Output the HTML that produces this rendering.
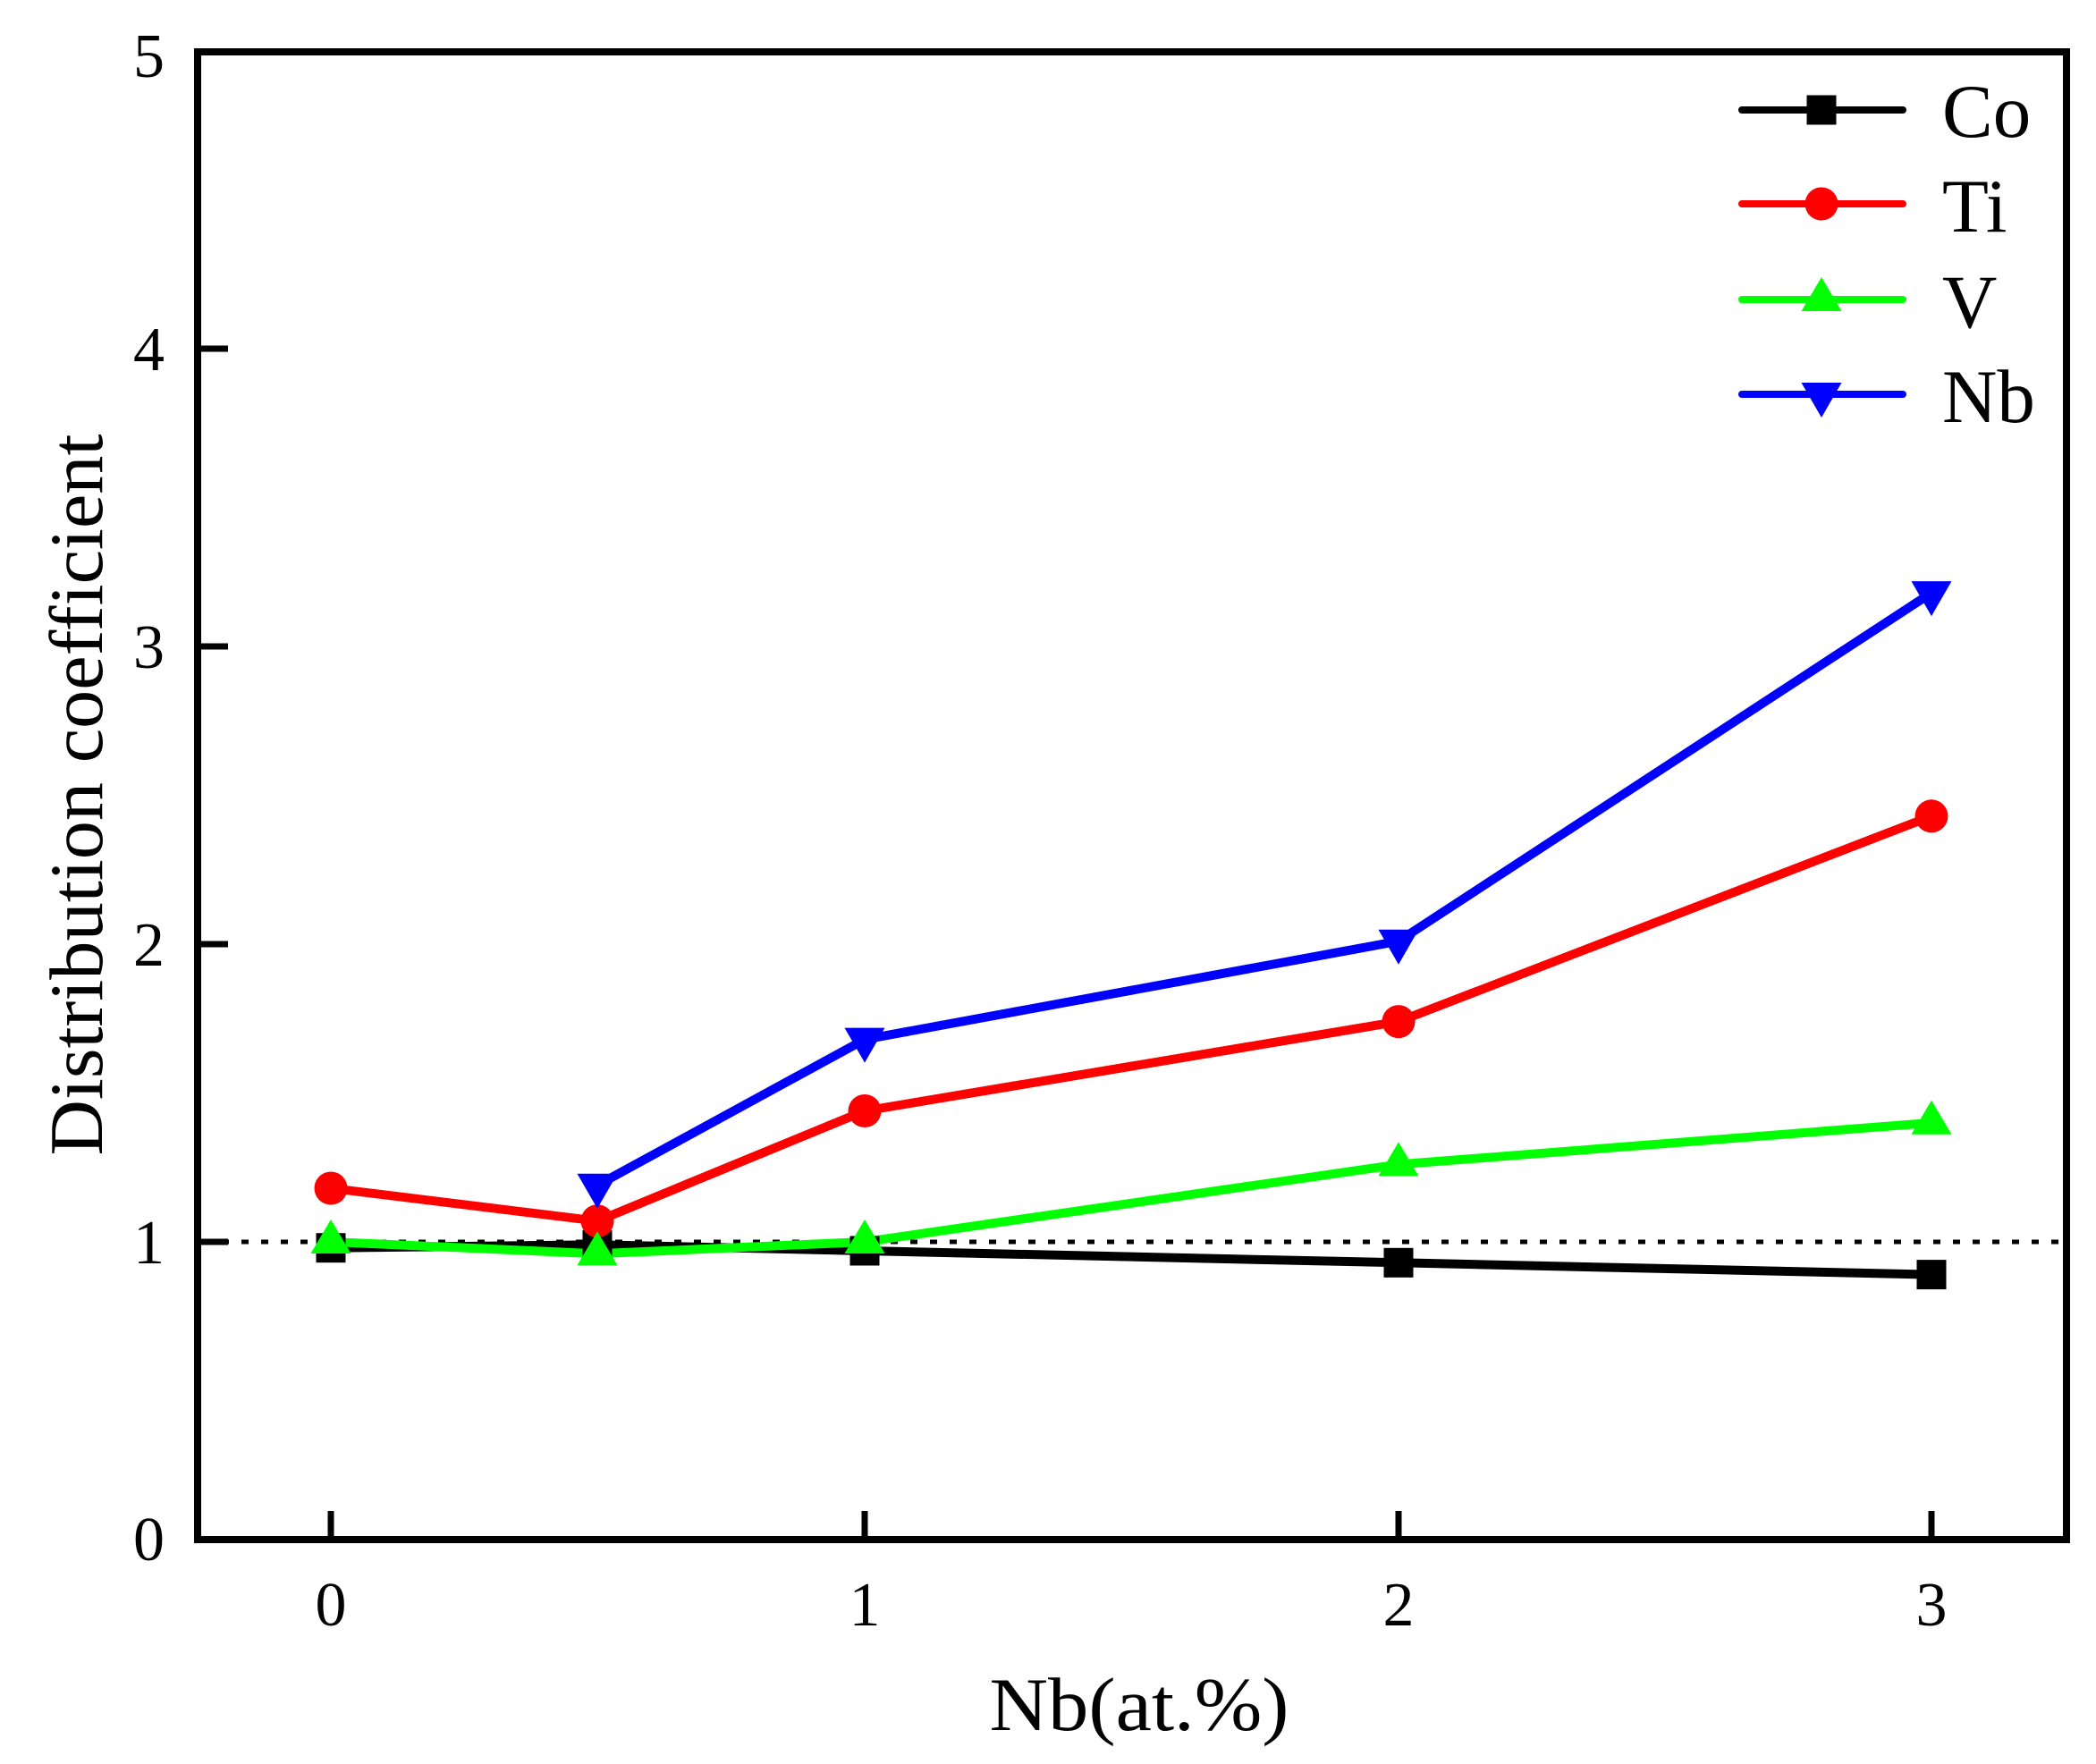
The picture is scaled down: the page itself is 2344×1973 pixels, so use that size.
<!DOCTYPE html>
<html><head><meta charset="utf-8"><style>html,body{margin:0;padding:0;background:#fff}svg{display:block}</style></head>
<body>
<svg width="2344" height="1973" viewBox="0 0 2344 1973" xmlns="http://www.w3.org/2000/svg" font-family="'Liberation Serif', serif">
<defs>
<g id="sq"><rect x="-16.5" y="-16.5" width="33" height="33" fill="#000"/></g>
<g id="ci"><circle r="18.5" fill="#f00"/></g>
<g id="tu"><polygon points="0,-25 -22.5,13 22.5,13" fill="#0f0"/></g>
<g id="td"><polygon points="0,26 -22.5,-13 22.5,-13" fill="#00f"/></g>
</defs>
<line x1="226" y1="1389" x2="2308" y2="1389" stroke="#000" stroke-width="5" stroke-dasharray="8 14"/>
<g stroke="#000" stroke-width="7">
<line x1="221" y1="1389" x2="255" y2="1389"/>
<line x1="221" y1="1056" x2="255" y2="1056"/>
<line x1="221" y1="723" x2="255" y2="723"/>
<line x1="221" y1="390" x2="255" y2="390"/>
<line x1="370" y1="1722" x2="370" y2="1690"/>
<line x1="967" y1="1722" x2="967" y2="1690"/>
<line x1="1564" y1="1722" x2="1564" y2="1690"/>
<line x1="2160" y1="1722" x2="2160" y2="1690"/>
</g>
<rect x="221" y="58" width="2090" height="1664" fill="none" stroke="#000" stroke-width="8"/>
<g fill="none" stroke-width="10" stroke-linejoin="round">
<polyline stroke="#000" points="370,1395.7 668,1392.3 967,1399 1564,1412.3 2160,1425.6"/>
<polyline stroke="#f00" points="370,1329 668,1365.7 967,1242.5 1564,1142.6 2160,912.8"/>
<polyline stroke="#0f0" points="370,1389 668,1402.3 967,1389 1564,1302.4 2160,1255.8"/>
<polyline stroke="#00f" points="668,1325.7 967,1162.6 1564,1052.7 2160,663.1"/>
</g>
<use href="#sq" x="370" y="1395.7"/><use href="#sq" x="668" y="1392.3"/><use href="#sq" x="967" y="1399"/><use href="#sq" x="1564" y="1412.3"/><use href="#sq" x="2160" y="1425.6"/>
<use href="#ci" x="370" y="1329"/><use href="#ci" x="668" y="1365.7"/><use href="#ci" x="967" y="1242.5"/><use href="#ci" x="1564" y="1142.6"/><use href="#ci" x="2160" y="912.8"/>
<use href="#tu" x="370" y="1389"/><use href="#tu" x="668" y="1402.3"/><use href="#tu" x="967" y="1389"/><use href="#tu" x="1564" y="1302.4"/><use href="#tu" x="2160" y="1255.8"/>
<use href="#td" x="668" y="1325.7"/><use href="#td" x="967" y="1162.6"/><use href="#td" x="1564" y="1052.7"/><use href="#td" x="2160" y="663.1"/>
<g font-size="70" text-anchor="end" fill="#000">
<text x="184" y="1745">0</text>
<text x="184" y="1413">1</text>
<text x="184" y="1080">2</text>
<text x="184" y="747">3</text>
<text x="184" y="414">4</text>
<text x="184" y="86">5</text>
</g>
<g font-size="70" text-anchor="middle" fill="#000">
<text x="370" y="1818">0</text>
<text x="967" y="1818">1</text>
<text x="1564" y="1818">2</text>
<text x="2160" y="1818">3</text>
</g>
<text x="1274" y="1935" font-size="85" text-anchor="middle" textLength="335" lengthAdjust="spacingAndGlyphs">Nb(at.%)</text>
<text transform="translate(114,889) rotate(-90)" font-size="85" text-anchor="middle" textLength="807" lengthAdjust="spacingAndGlyphs">Distribution coefficient</text>
<g stroke-width="8" stroke-linecap="round">
<line x1="1948" y1="123" x2="2128" y2="123" stroke="#000"/>
<line x1="1948" y1="228" x2="2128" y2="228" stroke="#f00"/>
<line x1="1948" y1="335" x2="2128" y2="335" stroke="#0f0"/>
<line x1="1948" y1="441" x2="2128" y2="441" stroke="#00f"/>
</g>
<use href="#sq" x="2037" y="123"/><use href="#ci" x="2037" y="228"/><use href="#tu" x="2037" y="335"/><use href="#td" x="2037" y="441"/>
<g font-size="85" fill="#000">
<text x="2172" y="153">Co</text>
<text x="2172" y="259">Ti</text>
<text x="2172" y="366">V</text>
<text x="2172" y="472">Nb</text>
</g>
</svg>
</body></html>
